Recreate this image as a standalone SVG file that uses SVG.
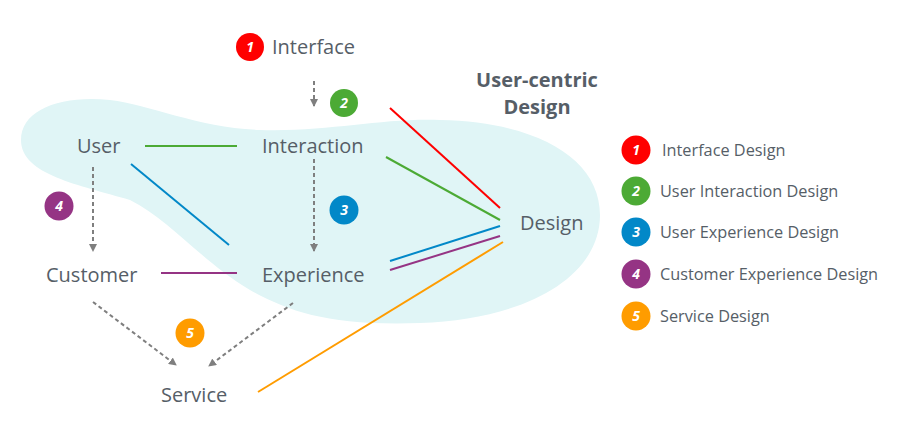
<svg xmlns="http://www.w3.org/2000/svg" width="899" height="426" viewBox="0 0 899 426">
<style>
.lbl{font-family:"Open Sans","Noto Sans","DejaVu Sans",sans-serif;font-size:20px;fill:#565e67}
.leg{font-family:"Open Sans","Noto Sans","DejaVu Sans",sans-serif;font-size:16.3px;fill:#565e67}
.ttl{font-family:"Open Sans","Noto Sans","DejaVu Sans",sans-serif;font-size:20px;font-weight:bold;fill:#565e67}
.num{font-family:"Open Sans","Noto Sans","DejaVu Sans",sans-serif;font-size:14px;font-weight:bold;font-style:italic;fill:#fff;text-anchor:middle}
.dash{stroke:#7f7f7f;stroke-width:2;stroke-dasharray:4 3;fill:none;marker-end:url(#ah)}
.ln{stroke-width:2;fill:none}
</style>
<defs>
<marker id="ah" viewBox="0 0 8 8" refX="7" refY="4" markerWidth="8" markerHeight="8" markerUnits="userSpaceOnUse" orient="auto">
<path d="M0,0 L8,4 L0,8 Z" fill="#7f7f7f"/>
</marker>
</defs>
<rect width="899" height="426" fill="#fff"/>
<path id="blob" d="M21,140 C21,110 60,95 110,100 C150,105 200,128 260,130 C330,132 380,118 440,120 C540,122 600,160 600,215 C600,280 520,320 420,323 C330,326 290,312 250,290 C200,260 170,220 130,200 C80,185 21,175 21,140 Z" fill="#e0f5f6"/>
<g id="connectors">
<line class="ln" x1="145" y1="146" x2="237" y2="146" stroke="#4caa35"/>
<line class="ln" x1="131" y1="164" x2="229" y2="245" stroke="#0288c8"/>
<line class="ln" x1="161" y1="273" x2="237" y2="273" stroke="#953484"/>
<line class="ln" x1="390" y1="108" x2="500" y2="208" stroke="#ff0000"/>
<line class="ln" x1="386" y1="157" x2="500" y2="220" stroke="#4caa35"/>
<line class="ln" x1="390" y1="261" x2="500" y2="226" stroke="#0288c8"/>
<line class="ln" x1="390" y1="270" x2="500" y2="236" stroke="#953484"/>
<line class="ln" x1="258" y1="392" x2="503" y2="242" stroke="#ff9c00"/>
<line class="dash" x1="314" y1="81" x2="314" y2="106"/>
<line class="dash" x1="93" y1="167" x2="93" y2="251"/>
<line class="dash" x1="314" y1="159" x2="314" y2="251"/>
<line class="dash" x1="93" y1="302" x2="176" y2="365"/>
<line class="dash" x1="293" y1="303" x2="209" y2="366"/>
</g>
<g id="title"><text class="ttl" x="537" y="87" text-anchor="middle">User-centric</text><text class="ttl" x="537" y="114" text-anchor="middle">Design</text></g>
<g id="interface"><circle cx="250" cy="47" r="14" fill="#ff0000"/><text class="num" x="250" y="52">1</text><text class="lbl" x="272" y="54">Interface</text></g>
<g id="badge2"><circle cx="344" cy="103" r="14" fill="#4caa35"/><text class="num" x="344" y="108">2</text></g>
<g id="user"><text class="lbl" x="77" y="153">User</text></g>
<g id="interaction"><text class="lbl" x="262" y="153">Interaction</text></g>
<g id="design"><text class="lbl" x="520" y="230">Design</text></g>
<g id="badge4"><circle cx="59" cy="206" r="14.5" fill="#953484"/><text class="num" x="59" y="211">4</text></g>
<g id="badge3"><circle cx="344" cy="210" r="14.5" fill="#0288c8"/><text class="num" x="344" y="215">3</text></g>
<g id="customer"><text class="lbl" x="46" y="282">Customer</text></g>
<g id="experience"><text class="lbl" x="262" y="282">Experience</text></g>
<g id="badge5"><circle cx="190" cy="333" r="14.5" fill="#ff9c00"/><text class="num" x="190" y="338">5</text></g>
<g id="service"><text class="lbl" x="161" y="402">Service</text></g>
<g id="legend">
<circle cx="636" cy="150" r="14.5" fill="#ff0000"/><text class="num" x="636" y="155">1</text><text class="leg" x="662" y="156">Interface Design</text>
<circle cx="636" cy="191" r="14.5" fill="#4caa35"/><text class="num" x="636" y="196">2</text><text class="leg" x="660" y="197">User Interaction Design</text>
<circle cx="636" cy="232" r="14.5" fill="#0288c8"/><text class="num" x="636" y="237">3</text><text class="leg" x="660" y="238">User Experience Design</text>
<circle cx="636" cy="274" r="14.5" fill="#953484"/><text class="num" x="636" y="279">4</text><text class="leg" x="660" y="280">Customer Experience Design</text>
<circle cx="636" cy="316" r="14.5" fill="#ff9c00"/><text class="num" x="636" y="321">5</text><text class="leg" x="660" y="322">Service Design</text>
</g>
</svg>
